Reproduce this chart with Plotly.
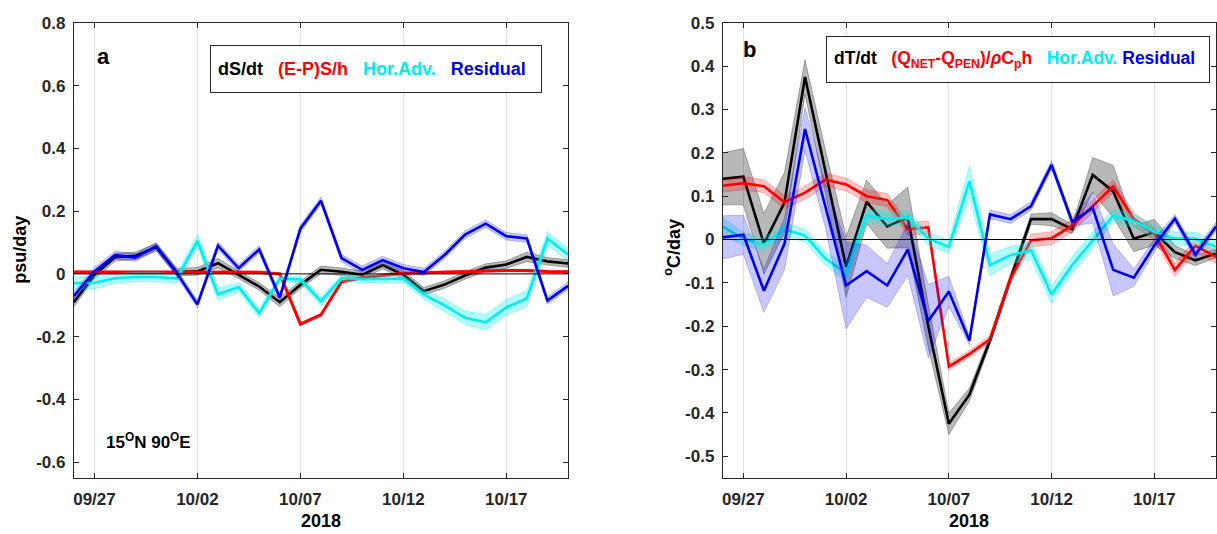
import plotly.graph_objects as go

# ---------------- data ----------------
dates = ["2018-09-26", "2018-09-27", "2018-09-28", "2018-09-29", "2018-09-30",
         "2018-10-01", "2018-10-02", "2018-10-03", "2018-10-04", "2018-10-05",
         "2018-10-06", "2018-10-07", "2018-10-08", "2018-10-09", "2018-10-10",
         "2018-10-11", "2018-10-12", "2018-10-13", "2018-10-14", "2018-10-15",
         "2018-10-16", "2018-10-17", "2018-10-18", "2018-10-19", "2018-10-20"]
tick_dates = ["2018-09-27", "2018-10-02", "2018-10-07", "2018-10-12", "2018-10-17"]
tick_labels = ["09/27", "10/02", "10/07", "10/12", "10/17"]

# Panel a: salinity budget (psu/day)
a_dsdt = [-0.09, -0.003, 0.053, 0.058, 0.085, 0.006, 0.008, 0.034, -0.003, -0.04,
          -0.09, -0.035, 0.013, 0.007, -0.003, 0.028, -0.003, -0.055, -0.034, -0.005,
          0.02, 0.03, 0.054, 0.04, 0.033]
a_dsdt_err = [0.015, 0.012, 0.012, 0.012, 0.012, 0.012, 0.012, 0.015, 0.012, 0.012,
              0.015, 0.012, 0.012, 0.012, 0.012, 0.012, 0.012, 0.012, 0.012, 0.012,
              0.012, 0.012, 0.015, 0.012, 0.012]
a_ep = [0.006, 0.006, 0.006, 0.006, 0.006, 0.006, 0.006, 0.006, 0.005, 0.005,
        0.0, -0.16, -0.13, -0.025, -0.012, -0.004, 0.002, 0.004, 0.005, 0.007,
        0.009, 0.011, 0.011, 0.008, 0.007]
a_ep_err = [0.004] * 25
a_hadv = [-0.03, -0.028, -0.014, -0.01, -0.01, -0.015, 0.105, -0.065, -0.042, -0.125,
          -0.015, -0.018, -0.087, -0.013, -0.017, -0.015, -0.015, -0.066, -0.10, -0.14,
          -0.154, -0.107, -0.078, 0.112, 0.062]
a_hadv_err = [0.02, 0.02, 0.015, 0.015, 0.015, 0.015, 0.02, 0.02, 0.015, 0.015,
              0.01, 0.01, 0.015, 0.01, 0.012, 0.012, 0.012, 0.015, 0.02, 0.022,
              0.025, 0.025, 0.025, 0.022, 0.02]
a_resid = [-0.07, 0.008, 0.06, 0.052, 0.088, 0.003, -0.097, 0.09, 0.018, 0.078,
           -0.075, 0.144, 0.233, 0.05, 0.013, 0.044, 0.018, 0.006, 0.06, 0.125,
           0.16, 0.12, 0.113, -0.085, -0.038]
a_resid_err = [0.012] * 25

# Panel b: temperature budget (degC/day)
b_dtdt = [0.14, 0.145, -0.01, 0.085, 0.375, 0.155, -0.063, 0.087, 0.03, 0.051,
          -0.2, -0.425, -0.358, -0.233, -0.09, 0.047, 0.047, 0.024, 0.149, 0.111,
          0.002, 0.017, -0.029, -0.048, -0.032]
b_dtdt_err = [0.06, 0.065, 0.07, 0.07, 0.04, 0.05, 0.07, 0.05, 0.05, 0.07,
              0.05, 0.025, 0.015, 0.01, 0.01, 0.012, 0.015, 0.01, 0.04, 0.06,
              0.03, 0.03, 0.015, 0.012, 0.01]
b_qnet = [0.124, 0.13, 0.123, 0.086, 0.108, 0.138, 0.127, 0.10, 0.091, 0.024,
          0.028, -0.293, -0.264, -0.23, -0.09, -0.002, 0.003, 0.032, 0.077, 0.123,
          0.047, 0.013, -0.07, -0.014, -0.04]
b_qnet_err = [0.015, 0.015, 0.015, 0.015, 0.015, 0.015, 0.015, 0.015, 0.015, 0.015,
              0.015, 0.008, 0.008, 0.008, 0.01, 0.015, 0.015, 0.015, 0.015, 0.015,
              0.015, 0.015, 0.015, 0.015, 0.015]
b_hadv = [0.03, 0.002, -0.012, 0.023, 0.009, -0.044, -0.078, 0.055, 0.047, 0.051,
          0.002, -0.017, 0.134, -0.059, -0.036, -0.025, -0.127, -0.059, -0.002, 0.055,
          0.043, 0.018, 0.002, 0.002, -0.017]
b_hadv_err = [0.02, 0.015, 0.015, 0.015, 0.015, 0.015, 0.02, 0.015, 0.015, 0.015,
              0.015, 0.015, 0.035, 0.025, 0.02, 0.02, 0.02, 0.02, 0.02, 0.015,
              0.015, 0.015, 0.015, 0.015, 0.015]
b_resid = [0.005, 0.011, -0.118, -0.01, 0.255, 0.076, -0.106, -0.073, -0.106, -0.023,
           -0.188, -0.12, -0.233, 0.058, 0.047, 0.077, 0.172, 0.041, 0.073, -0.07,
           -0.088, -0.014, 0.048, -0.035, 0.03]
b_resid_err = [0.05, 0.045, 0.05, 0.06, 0.05, 0.05, 0.1, 0.06, 0.05, 0.06,
               0.085, 0.035, 0.01, 0.01, 0.01, 0.01, 0.01, 0.01, 0.035, 0.06,
               0.02, 0.015, 0.01, 0.01, 0.01]

a_yticks = [-0.6, -0.4, -0.2, 0, 0.2, 0.4, 0.6, 0.8]
a_yticklabels = ["-0.6", "-0.4", "-0.2", "0", "0.2", "0.4", "0.6", "0.8"]
b_yticks = [-0.5, -0.4, -0.3, -0.2, -0.1, 0, 0.1, 0.2, 0.3, 0.4, 0.5]
b_yticklabels = ["-0.5", "-0.4", "-0.3", "-0.2", "-0.1", "0", "0.1", "0.2", "0.3", "0.4", "0.5"]

# ---------------- styles ----------------
W, H = 1217, 534
FONT = "Liberation Sans, Arial, Helvetica, sans-serif"
AX = "#262626"
C_BLACK, C_RED, C_CYAN, C_BLUE = "#000000", "#ff0000", "#00eeee", "#0000f0"
BANDS = {
    C_BLACK: ("rgba(0,0,0,0.28)", "rgba(0,0,0,0.4)"),
    C_RED: ("rgba(255,0,0,0.24)", "rgba(255,0,0,0.32)"),
    C_CYAN: ("rgba(0,238,238,0.3)", "rgba(0,238,238,0.45)"),
    C_BLUE: ("rgba(0,0,240,0.22)", "rgba(0,0,240,0.32)"),
}

fig = go.Figure()


def add_series(y, err, color, xa, ya, width=2.6):
    upper = [v + e for v, e in zip(y, err)]
    lower = [v - e for v, e in zip(y, err)]
    fill, edge = BANDS[color]
    fig.add_trace(go.Scatter(x=dates + dates[::-1], y=upper + lower[::-1],
                             fill="toself", fillcolor=fill, mode="lines",
                             line=dict(color=edge, width=0.7), hoverinfo="skip",
                             showlegend=False, xaxis=xa, yaxis=ya))
    fig.add_trace(go.Scatter(x=dates, y=y, mode="lines",
                             line=dict(color=color, width=width),
                             showlegend=False, xaxis=xa, yaxis=ya))


add_series(a_dsdt, a_dsdt_err, C_BLACK, "x", "y")
add_series(a_ep, a_ep_err, C_RED, "x", "y", width=3)
add_series(a_hadv, a_hadv_err, C_CYAN, "x", "y")
add_series(a_resid, a_resid_err, C_BLUE, "x", "y")

add_series(b_dtdt, b_dtdt_err, C_BLACK, "x2", "y2")
add_series(b_qnet, b_qnet_err, C_RED, "x2", "y2")
add_series(b_hadv, b_hadv_err, C_CYAN, "x2", "y2")
add_series(b_resid, b_resid_err, C_BLUE, "x2", "y2")

tickfont = dict(family=FONT, size=17, color=AX, weight="bold")
xcommon = dict(type="date", range=[dates[0], dates[-1]], tickvals=tick_dates,
               ticktext=tick_labels, showgrid=True, gridcolor="#e2e2e2", gridwidth=1,
               showline=True, linecolor=AX, linewidth=1, mirror="ticks",
               ticks="inside", ticklen=5, tickcolor=AX, tickfont=tickfont,
               zeroline=False, ticklabelstandoff=6)
ycommon = dict(showgrid=False, zeroline=False, showline=True, linecolor=AX,
               linewidth=1, mirror="ticks", ticks="inside", ticklen=5,
               tickcolor=AX, tickfont=tickfont, ticklabelstandoff=4)

ydom = [57 / H, 520 / H]
fig.update_layout(
    width=W, height=H, margin=dict(l=0, r=0, t=0, b=0),
    paper_bgcolor="white", plot_bgcolor="white", showlegend=False,
    xaxis=dict(domain=[73 / W, 568 / W], anchor="y", **xcommon),
    yaxis=dict(domain=ydom, anchor="x", range=[-0.65, 0.8], tickvals=a_yticks,
               ticktext=a_yticklabels, **ycommon),
    xaxis2=dict(domain=[723 / W, 1.0], anchor="y2", **xcommon),
    yaxis2=dict(domain=ydom, anchor="x2", range=[-0.55, 0.5], tickvals=b_yticks,
                ticktext=b_yticklabels, **ycommon),
)

# zero reference lines
for xr, yr in (("x domain", "y"), ("x2 domain", "y2")):
    fig.add_shape(type="line", xref=xr, yref=yr, x0=0, x1=1, y0=0, y1=0,
                  line=dict(color="black", width=1))


def px(x):
    return x / W


def py(y):
    return 1 - y / H


def ann(text, x, y, size=18, xanchor="center", yanchor="middle", **kw):
    fig.add_annotation(text=text, x=px(x), y=py(y), xref="paper", yref="paper",
                       showarrow=False, xanchor=xanchor, yanchor=yanchor,
                       font=dict(family=FONT, size=size, color="black", weight="bold"),
                       **kw)


# axis titles
ann("psu/day", 19, 245, size=18, textangle=-90)
ann("<sup>o</sup>C/day", 673, 242, size=18, textangle=-90)
ann("2018", 321, 521, size=18)
ann("2018", 970, 521, size=18)

# panel letters
ann("a", 102.5, 48, size=22)
ann("b", 750, 41, size=22)
ann("15<sup>O</sup>N 90<sup>O</sup>E", 103, 439, size=17, xanchor="left")

sp = "\u00a0\u00a0 "
leg_a = ("<span style='color:black'>dS/dt</span>" + sp +
         "<span style='color:#ff0000'>(E-P)S/h</span>" + sp +
         "<span style='color:#00eeee'>Hor.Adv.</span>" + sp +
         "<span style='color:#0000f0'>Residual</span>")
fig.add_annotation(text=leg_a, x=px(209), y=py(61), xref="paper", yref="paper",
                   showarrow=False, xanchor="left", yanchor="middle",
                   width=316, height=32, borderpad=7, bordercolor=AX, borderwidth=1,
                   bgcolor="white", align="left",
                   font=dict(family=FONT, size=18, color="black", weight="bold"))

leg_b = ("<span style='color:black'>dT/dt</span>" + sp +
         "<span style='color:#ff0000'>(Q<sub>NET</sub>-Q<sub>PEN</sub>)/<i>ρ</i>C<sub>p</sub>h</span>" + sp +
         "<span style='color:#00eeee'>Hor.Adv.</span> " +
         "<span style='color:#0000f0'>Residual</span>")
fig.add_annotation(text=leg_b, x=px(826), y=py(51.5), xref="paper", yref="paper",
                   showarrow=False, xanchor="left", yanchor="middle",
                   width=368, height=31, borderpad=7, bordercolor=AX, borderwidth=1,
                   bgcolor="white", align="left",
                   font=dict(family=FONT, size=17.5, color="black", weight="bold"))

fig.write_html("out.html")
